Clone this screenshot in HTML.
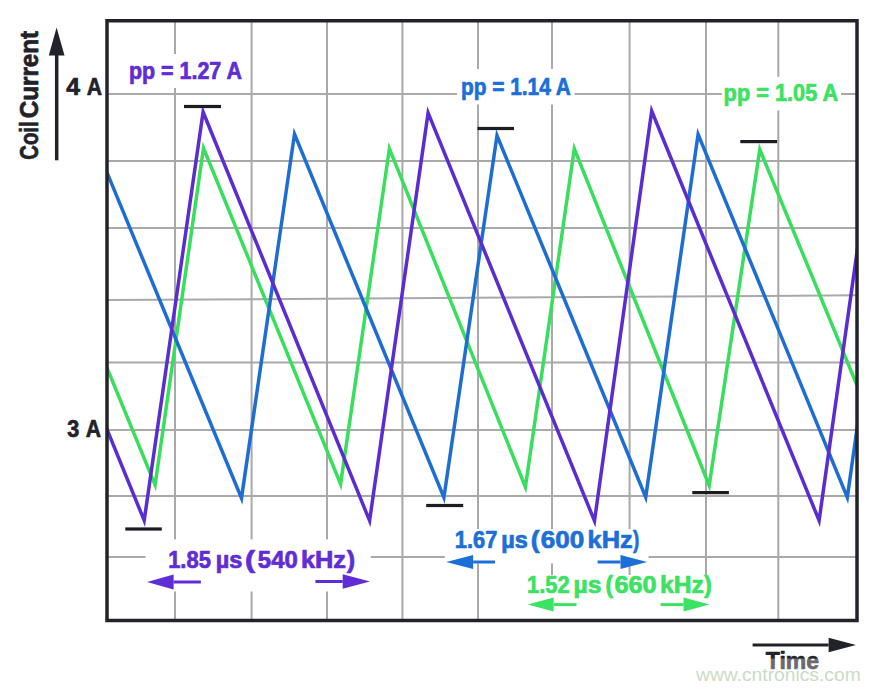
<!DOCTYPE html>
<html><head><meta charset="utf-8"><style>
html,body{margin:0;padding:0;background:#fff;width:880px;height:690px;overflow:hidden;}
svg{display:block;}
</style></head><body>

<svg width="880" height="690" viewBox="0 0 880 690">
<defs><clipPath id="c"><rect x="107" y="20.75" width="750" height="599.75"/></clipPath></defs>
<line x1="175" y1="20.75" x2="175" y2="620.5" stroke="#a9a9a9" stroke-width="2"/>
<line x1="251.6" y1="20.75" x2="251.6" y2="620.5" stroke="#a9a9a9" stroke-width="2"/>
<line x1="327" y1="20.75" x2="327" y2="620.5" stroke="#a9a9a9" stroke-width="2"/>
<line x1="402.4" y1="20.75" x2="402.4" y2="620.5" stroke="#a9a9a9" stroke-width="2"/>
<line x1="478" y1="20.75" x2="478" y2="620.5" stroke="#a9a9a9" stroke-width="2"/>
<line x1="552" y1="20.75" x2="552" y2="620.5" stroke="#a9a9a9" stroke-width="2"/>
<line x1="629.6" y1="20.75" x2="629.6" y2="620.5" stroke="#a9a9a9" stroke-width="2"/>
<line x1="706" y1="20.75" x2="706" y2="620.5" stroke="#a9a9a9" stroke-width="2"/>
<line x1="778.3" y1="20.75" x2="778.3" y2="620.5" stroke="#a9a9a9" stroke-width="2"/>
<line x1="107" y1="94" x2="857" y2="94" stroke="#a9a9a9" stroke-width="2"/>
<line x1="107" y1="161" x2="857" y2="161" stroke="#a9a9a9" stroke-width="2"/>
<line x1="107" y1="228" x2="857" y2="228" stroke="#a9a9a9" stroke-width="2"/>
<line x1="107" y1="300.1" x2="857" y2="295.3" stroke="#a9a9a9" stroke-width="2"/>
<line x1="107" y1="362.5" x2="857" y2="362.5" stroke="#a9a9a9" stroke-width="2"/>
<line x1="107" y1="430" x2="857" y2="430" stroke="#a9a9a9" stroke-width="2"/>
<line x1="107" y1="496" x2="857" y2="496" stroke="#a9a9a9" stroke-width="2"/>
<line x1="107" y1="557" x2="857" y2="557" stroke="#a9a9a9" stroke-width="2"/>
<rect x="125" y="54" width="121" height="34" fill="#fff"/>
<rect x="457" y="69" width="117.5" height="35.5" fill="#fff"/>
<rect x="721.8" y="76.8" width="119.20000000000005" height="33.7" fill="#fff"/>
<rect x="145.5" y="539.4" width="225.3" height="52.10000000000002" fill="#fff"/>
<rect x="444.8" y="529" width="203.8" height="34.5" fill="#fff"/>
<rect x="525" y="575" width="187" height="44" fill="#fff"/>
<g clip-path="url(#c)" fill="none" stroke-width="3.5" stroke-linejoin="miter" stroke-miterlimit="10">
<polyline stroke="#3ade5e" points="16.80,148.50 155.10,485.00 203.50,148.10 340.60,484.10 389.40,148.60 525.40,487.00 574.30,148.80 709.20,485.50 759.80,149.50 898.10,485.00"/>
<polyline stroke="#1d6dd2" points="91.10,134.00 241.50,498.10 294.50,134.00 443.90,497.50 497.00,135.50 645.70,497.10 698.10,134.30 847.30,497.30 898.80,134.00"/>
<polyline stroke="#5b2cd0" points="-22.70,112.00 144.20,520.50 203.10,112.00 369.60,520.70 428.10,112.90 594.50,520.90 651.70,111.00 819.10,520.50 876.80,112.00"/>
</g>
<rect x="184" y="104.9" width="37" height="3.2" fill="#1c1c22"/>
<rect x="125.3" y="527.4" width="36.500000000000014" height="3.2" fill="#1c1c22"/>
<rect x="426.2" y="503.9" width="37.0" height="3.2" fill="#1c1c22"/>
<rect x="477.5" y="126.9" width="36.5" height="3.2" fill="#1c1c22"/>
<rect x="692.3" y="491.0" width="36.60000000000002" height="3.2" fill="#1c1c22"/>
<rect x="740.3" y="140.0" width="36.80000000000007" height="3.2" fill="#1c1c22"/>
<rect x="107" y="20.75" width="750" height="599.75" fill="none" stroke="#22222a" stroke-width="3.5"/>
<line x1="200.9" y1="582" x2="173.6" y2="582" stroke="#5f2dd6" stroke-width="3"/><polygon points="147,582 173.6,574.6 173.6,589.4" fill="#5f2dd6"/>
<line x1="315.4" y1="581.5" x2="342.7" y2="581.5" stroke="#5f2dd6" stroke-width="3"/><polygon points="370,581.5 342.7,574.2 342.7,588.8" fill="#5f2dd6"/>
<line x1="495" y1="562" x2="473.1" y2="562" stroke="#1d6fd8" stroke-width="3"/><polygon points="446.2,562 473.1,555.0 473.1,569.0" fill="#1d6fd8"/>
<line x1="597.6" y1="562" x2="620.5" y2="562" stroke="#1d6fd8" stroke-width="3"/><polygon points="647.1,562 620.5,555.0 620.5,569.0" fill="#1d6fd8"/>
<line x1="576.5" y1="604.6" x2="553.6" y2="604.6" stroke="#3ce262" stroke-width="3"/><polygon points="527.7,604.6 553.6,597.6 553.6,611.6" fill="#3ce262"/>
<line x1="660.6" y1="604.6" x2="683.5" y2="604.6" stroke="#3ce262" stroke-width="3"/><polygon points="709.4,604.6 683.5,597.6 683.5,611.6" fill="#3ce262"/>
<line x1="752.6" y1="645" x2="828.6" y2="645" stroke="#22222a" stroke-width="3"/><polygon points="856,645 828.6,637.65 828.6,652.35" fill="#22222a"/>
<line x1="56.7" y1="160.3" x2="56.7" y2="54" stroke="#22222a" stroke-width="3.5"/>
<polygon points="56.6,27.5 48.8,55.4 64.5,55.4" fill="#22222a"/>
<text x="128.9" y="78.8" textLength="113.0" lengthAdjust="spacingAndGlyphs" font-family="Liberation Sans, sans-serif" font-weight="bold" font-size="23.5" fill="#5f2dd6" stroke="#5f2dd6" stroke-width="0.7" stroke-linejoin="round" >pp = 1.27 A</text>
<text x="460.9" y="94.5" textLength="110.0" lengthAdjust="spacingAndGlyphs" font-family="Liberation Sans, sans-serif" font-weight="bold" font-size="23.5" fill="#1d6fd8" stroke="#1d6fd8" stroke-width="0.7" stroke-linejoin="round" >pp = 1.14 A</text>
<text x="723.6" y="101.4" textLength="114.60000000000002" lengthAdjust="spacingAndGlyphs" font-family="Liberation Sans, sans-serif" font-weight="bold" font-size="23.5" fill="#3ce262" stroke="#3ce262" stroke-width="0.7" stroke-linejoin="round" >pp = 1.05 A</text>
<text x="168.17" y="568.2" textLength="42.70" lengthAdjust="spacingAndGlyphs" font-family="Liberation Sans, sans-serif" font-weight="bold" font-size="23.5" fill="#5f2dd6" stroke="#5f2dd6" stroke-width="0.7" stroke-linejoin="round" >1.85</text>
<text x="215.80" y="568.2" textLength="26.62" lengthAdjust="spacingAndGlyphs" font-family="Liberation Sans, sans-serif" font-weight="bold" font-size="23.5" fill="#5f2dd6" stroke="#5f2dd6" stroke-width="0.7" stroke-linejoin="round" >µs</text>
<text x="245.10" y="568.2" textLength="10.18" lengthAdjust="spacingAndGlyphs" font-family="Liberation Sans, sans-serif" font-weight="bold" font-size="23.5" fill="#5f2dd6" stroke="#5f2dd6" stroke-width="0.7" stroke-linejoin="round" >(</text>
<text x="257.88" y="568.2" textLength="39.84" lengthAdjust="spacingAndGlyphs" font-family="Liberation Sans, sans-serif" font-weight="bold" font-size="23.5" fill="#5f2dd6" stroke="#5f2dd6" stroke-width="0.7" stroke-linejoin="round" >540</text>
<text x="300.92" y="568.2" textLength="45.14" lengthAdjust="spacingAndGlyphs" font-family="Liberation Sans, sans-serif" font-weight="bold" font-size="23.5" fill="#5f2dd6" stroke="#5f2dd6" stroke-width="0.7" stroke-linejoin="round" >kHz</text>
<text x="346.80" y="568.2" textLength="8.39" lengthAdjust="spacingAndGlyphs" font-family="Liberation Sans, sans-serif" font-weight="bold" font-size="23.5" fill="#5f2dd6" stroke="#5f2dd6" stroke-width="0.7" stroke-linejoin="round" >)</text>
<text x="454.77" y="548.2" textLength="42.53" lengthAdjust="spacingAndGlyphs" font-family="Liberation Sans, sans-serif" font-weight="bold" font-size="23.5" fill="#1d6fd8" stroke="#1d6fd8" stroke-width="0.7" stroke-linejoin="round" >1.67</text>
<text x="501.30" y="548.2" textLength="26.62" lengthAdjust="spacingAndGlyphs" font-family="Liberation Sans, sans-serif" font-weight="bold" font-size="23.5" fill="#1d6fd8" stroke="#1d6fd8" stroke-width="0.7" stroke-linejoin="round" >µs</text>
<text x="530.66" y="548.2" textLength="8.95" lengthAdjust="spacingAndGlyphs" font-family="Liberation Sans, sans-serif" font-weight="bold" font-size="23.5" fill="#1d6fd8" stroke="#1d6fd8" stroke-width="0.7" stroke-linejoin="round" >(</text>
<text x="540.89" y="548.2" textLength="43.45" lengthAdjust="spacingAndGlyphs" font-family="Liberation Sans, sans-serif" font-weight="bold" font-size="23.5" fill="#1d6fd8" stroke="#1d6fd8" stroke-width="0.7" stroke-linejoin="round" >600</text>
<text x="587.52" y="548.2" textLength="45.14" lengthAdjust="spacingAndGlyphs" font-family="Liberation Sans, sans-serif" font-weight="bold" font-size="23.5" fill="#1d6fd8" stroke="#1d6fd8" stroke-width="0.7" stroke-linejoin="round" >kHz</text>
<text x="633.00" y="548.2" textLength="6.26" lengthAdjust="spacingAndGlyphs" font-family="Liberation Sans, sans-serif" font-weight="bold" font-size="23.5" fill="#1d6fd8" stroke="#1d6fd8" stroke-width="0.7" stroke-linejoin="round" >)</text>
<text x="527.07" y="593.2" textLength="42.53" lengthAdjust="spacingAndGlyphs" font-family="Liberation Sans, sans-serif" font-weight="bold" font-size="23.5" fill="#3ce262" stroke="#3ce262" stroke-width="0.7" stroke-linejoin="round" >1.52</text>
<text x="573.45" y="593.2" textLength="27.90" lengthAdjust="spacingAndGlyphs" font-family="Liberation Sans, sans-serif" font-weight="bold" font-size="23.5" fill="#3ce262" stroke="#3ce262" stroke-width="0.7" stroke-linejoin="round" >µs</text>
<text x="605.43" y="593.2" textLength="7.60" lengthAdjust="spacingAndGlyphs" font-family="Liberation Sans, sans-serif" font-weight="bold" font-size="23.5" fill="#3ce262" stroke="#3ce262" stroke-width="0.7" stroke-linejoin="round" >(</text>
<text x="614.42" y="593.2" textLength="42.21" lengthAdjust="spacingAndGlyphs" font-family="Liberation Sans, sans-serif" font-weight="bold" font-size="23.5" fill="#3ce262" stroke="#3ce262" stroke-width="0.7" stroke-linejoin="round" >660</text>
<text x="659.95" y="593.2" textLength="43.89" lengthAdjust="spacingAndGlyphs" font-family="Liberation Sans, sans-serif" font-weight="bold" font-size="23.5" fill="#3ce262" stroke="#3ce262" stroke-width="0.7" stroke-linejoin="round" >kHz</text>
<text x="704.00" y="593.2" textLength="7.83" lengthAdjust="spacingAndGlyphs" font-family="Liberation Sans, sans-serif" font-weight="bold" font-size="23.5" fill="#3ce262" stroke="#3ce262" stroke-width="0.7" stroke-linejoin="round" >)</text>
<text x="66.20" y="94.5" textLength="13.78" lengthAdjust="spacingAndGlyphs" font-family="Liberation Sans, sans-serif" font-weight="bold" font-size="23.5" fill="#22222a" stroke="#22222a" stroke-width="0.7" stroke-linejoin="round" >4</text>
<text x="86.70" y="94.5" textLength="15.29" lengthAdjust="spacingAndGlyphs" font-family="Liberation Sans, sans-serif" font-weight="bold" font-size="23.5" fill="#22222a" stroke="#22222a" stroke-width="0.7" stroke-linejoin="round" >A</text>
<text x="67.30" y="436.6" textLength="11.97" lengthAdjust="spacingAndGlyphs" font-family="Liberation Sans, sans-serif" font-weight="bold" font-size="23.5" fill="#22222a" stroke="#22222a" stroke-width="0.7" stroke-linejoin="round" >3</text>
<text x="85.70" y="436.6" textLength="15.29" lengthAdjust="spacingAndGlyphs" font-family="Liberation Sans, sans-serif" font-weight="bold" font-size="23.5" fill="#22222a" stroke="#22222a" stroke-width="0.7" stroke-linejoin="round" >A</text>
<text x="765.8" y="669.4" textLength="53.200000000000045" lengthAdjust="spacingAndGlyphs" font-family="Liberation Sans, sans-serif" font-weight="bold" font-size="23" fill="#22222a" stroke="#22222a" stroke-width="0.7" stroke-linejoin="round" >Time</text>
<g transform="translate(38.4,159) rotate(-90)"><text x="-0.71" y="0" textLength="38.30" lengthAdjust="spacingAndGlyphs" font-family="Liberation Sans, sans-serif" font-weight="bold" font-size="25" fill="#22222a" stroke="#22222a" stroke-width="0.7" stroke-linejoin="round" >Coil</text><text x="40.73" y="0" textLength="87.46" lengthAdjust="spacingAndGlyphs" font-family="Liberation Sans, sans-serif" font-weight="bold" font-size="25" fill="#22222a" stroke="#22222a" stroke-width="0.7" stroke-linejoin="round" >Current</text></g>
<rect x="755" y="658.5" width="80" height="31.5" fill="#fff" fill-opacity="0.33"/>
<text x="696" y="680.5" textLength="164.70000000000005" lengthAdjust="spacingAndGlyphs" font-family="Liberation Sans, sans-serif" font-weight="normal" font-size="18" fill="#c9dcc3"  >www.cntronics.com</text>
</svg>
</body></html>
